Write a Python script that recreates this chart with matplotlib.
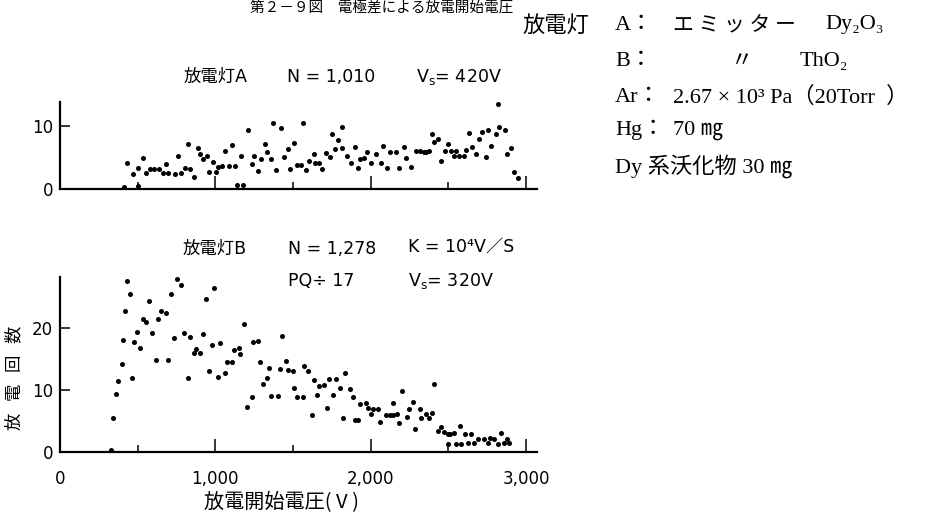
import matplotlib
matplotlib.use("Agg")
import matplotlib.pyplot as plt
from matplotlib.ticker import FixedLocator, NullFormatter

W, H = 931, 519

# 放電灯A : start voltage (V) and discharge count
volt_a = [412, 434, 472, 500, 505, 532, 554, 580, 607, 635, 665, 683, 698, 741, 762, 779,
          803, 822, 837, 865, 886, 903, 919, 944, 961, 985, 1005, 1019, 1041, 1062, 1090,
          1105, 1127, 1142, 1176, 1167, 1208, 1234, 1251, 1277, 1296, 1320, 1335, 1357,
          1369, 1389, 1421, 1442, 1466, 1483, 1507, 1528, 1550, 1563, 1584, 1605, 1636,
          1642, 1670, 1689, 1713, 1739, 1749, 1771, 1788, 1814, 1818, 1850, 1876, 1900,
          1917, 1928, 1958, 1979, 2001, 2035, 2065, 2080, 2104, 2121, 2164, 2179, 2217,
          2224, 2260, 2292, 2318, 2340, 2354, 2374, 2393, 2408, 2436, 2451, 2479, 2496,
          2516, 2533, 2550, 2565, 2597, 2612, 2634, 2651, 2677, 2694, 2713, 2741, 2752,
          2777, 2806, 2818, 2827, 2861, 2878, 2904, 2919, 2947]
count_a = [0.3, 4.1, 2.4, 3.3, 0.5, 4.9, 2.5, 3.2, 3.2, 3.2, 2.6, 4.0, 2.6, 2.4, 5.2, 2.6,
           3.4, 7.1, 3.1, 1.9, 6.5, 5.6, 4.7, 5.3, 2.7, 4.3, 2.7, 3.5, 3.7, 6.1, 3.7,
           7.0, 3.7, 0.6, 0.6, 5.2, 9.3, 3.9, 5.3, 2.9, 4.7, 7.2, 5.8, 4.8,
           10.4, 3.0, 9.6, 5.0, 6.3, 3.1, 7.3, 3.8, 3.8, 10.5, 3.0, 4.5, 5.5,
           4.1, 4.1, 3.2, 5.7, 5.1, 8.7, 6.3, 7.8, 6.5, 9.8, 5.2, 4.2, 6.6,
           3.4, 4.7, 4.9, 5.8, 4.1, 5.6, 4.2, 6.8, 3.4, 5.8, 5.8, 3.4, 6.7,
           4.9, 3.5, 6.0, 6.0, 5.8, 5.8, 6.1, 8.8, 7.4, 8.0, 4.5, 6.1, 7.1,
           6.1, 5.3, 6.1, 5.3, 5.3, 6.2, 8.9, 6.7, 5.5, 8.0, 9.1, 5.0, 9.3,
           6.8, 8.7, 13.5, 9.8, 9.4, 5.5, 6.5, 2.7, 1.8]

# 放電灯B
volt_b = [326, 343, 361, 373, 399, 408, 421, 429, 449, 466, 474, 494, 515, 534, 554, 575,
          594, 618, 633, 652, 683, 697, 715, 736, 755, 781, 797, 822, 835, 861, 878, 901,
          921, 938, 961, 981, 994, 1015, 1028, 1065, 1073, 1108, 1117, 1150, 1161, 1183,
          1204, 1234, 1241, 1275, 1288, 1305, 1335, 1344, 1361, 1404, 1417, 1427, 1455,
          1466, 1502, 1509, 1528, 1567, 1571, 1593, 1621, 1636, 1657, 1670, 1702, 1717,
          1730, 1760, 1777, 1803, 1822, 1837, 1867, 1885, 1900, 1921, 1934, 1968, 1983,
          2003, 2017, 2046, 2061, 2099, 2125, 2142, 2146, 2168, 2183, 2200, 2232, 2249,
          2271, 2288, 2314, 2325, 2355, 2372, 2391, 2408, 2432, 2451, 2473, 2494, 2511,
          2537, 2494, 2550, 2576, 2580, 2608, 2623, 2647, 2666, 2690, 2726, 2752, 2765,
          2795, 2816, 2838, 2855, 2876, 2893]
count_b = [0.4, 5.5, 9.3, 11.4, 14.2, 18.0, 22.8, 27.6, 25.4, 12.0, 17.8, 19.4, 16.8, 21.5, 21.0, 24.4,
           19.1, 14.9, 21.5, 22.7, 22.4, 14.9, 25.4, 18.3, 27.8, 26.9, 19.2, 11.9, 18.5, 15.9, 16.6, 15.9,
           19.0, 24.7, 13.0, 17.3, 26.5, 12.1, 17.5, 12.7, 14.5, 14.5, 16.4, 16.7, 15.8, 20.7,
           7.2, 8.9, 17.8, 17.9, 14.5, 11.0, 12.0, 13.6, 9.0, 9.1, 13.3, 18.7, 14.6,
           13.2, 13.0, 10.3, 8.9, 8.9, 13.9, 13.0, 6.0, 11.6, 9.2, 10.7, 10.8, 7.1,
           11.7, 9.2, 11.8, 10.3, 5.5, 12.7, 10.2, 8.9, 5.2, 5.2, 7.8, 7.9, 7.1,
           6.1, 6.9, 6.9, 4.9, 5.9, 6.0, 6.0, 7.9, 6.1, 4.6, 9.9, 5.7, 7.0,
           8.0, 3.7, 7.0, 5.5, 6.2, 5.4, 6.3, 11.0, 3.4, 4.1, 3.2, 2.9, 2.9,
           3.0, 1.3, 1.3, 4.2, 1.3, 2.9, 1.4, 2.9, 1.4, 2.1, 2.1, 1.5, 2.2,
           2.1, 1.3, 3.1, 1.4, 2.1, 1.4]

x_ticks = [0, 1000, 2000, 3000]
x_labels = ['0', '1,000', '2,000', '3,000']
x_minor = [500, 1500, 2500]

SANS = ['DejaVu Sans', 'Noto Sans CJK JP']
SERIF = ['Liberation Serif', 'DejaVu Serif', 'Noto Sans CJK JP']
CJK = ['Noto Sans CJK JP', 'DejaVu Sans']

fig = plt.figure(figsize=(W / 100, H / 100), dpi=100)


def put(x, y, s, **kw):
    # x, y in pixels from the top-left corner
    fig.text(x / W, 1 - y / H, s, **kw)


def make_axes(top, bottom, ymax):
    ax = fig.add_axes([60 / W, 1 - bottom / H, 477 / W, (bottom - top) / H])
    ax.set_xlim(0, 3070)
    ax.set_ylim(0, ymax)
    for side in ['top', 'right']:
        ax.spines[side].set_visible(False)
    for side in ['left', 'bottom']:
        ax.spines[side].set_linewidth(1.6)
    ax.xaxis.set_major_locator(FixedLocator(x_ticks))
    ax.xaxis.set_minor_locator(FixedLocator(x_minor))
    ax.xaxis.set_minor_formatter(NullFormatter())
    ax.tick_params(axis='x', which='major', direction='in', length=9.5, width=1.1,
                   pad=13, labelsize=12)
    ax.tick_params(axis='x', which='minor', direction='in', length=5, width=1.1)
    ax.tick_params(axis='y', direction='in', length=7, width=1.1, pad=5, labelsize=12)
    ax.patch.set_visible(False)
    return ax


ax1 = make_axes(102, 189, 13.8)
ax1.set_yticks([0, 10])
ax1.set_xticklabels([])
ax1.scatter(volt_a, count_a, s=13, color='black', linewidths=0, clip_on=False, zorder=3)

ax2 = make_axes(277, 452, 28.2)
ax2.set_yticks([0, 10, 20])
ax2.set_xticklabels(x_labels)
ax2.scatter(volt_b, count_b, s=13, color='black', linewidths=0, clip_on=False, zorder=3)

for lab in ax1.get_yticklabels() + ax2.get_yticklabels() + ax2.get_xticklabels():
    lab.set_family(SANS)

# axis titles
put(14, 378, '放   電   回   数', rotation=90, ha='center', va='center', fontsize=12.5, family=CJK)
put(282, 503, '放電開始電圧( V )', ha='center', va='center', fontsize=14.5, family=CJK)

# panel annotations
put(184, 77, '放電灯A', va='center', fontsize=12.5, family=SANS)
put(287, 77, 'N = 1,010', va='center', fontsize=12.5, family=SANS)
put(416, 77, r'V$_\mathregular{s}$= 420V', va='center', fontsize=12.5, family=SANS)

put(183, 249, '放電灯B', va='center', fontsize=12.5, family=SANS)
put(288, 249, 'N = 1,278', va='center', fontsize=12.5, family=SANS)
put(408, 247, 'K = 10⁴V／S', va='center', fontsize=12.5, family=SANS)
put(288, 281, 'PQ÷ 17', va='center', fontsize=12.5, family=SANS)
put(408, 281, r'V$_\mathregular{s}$= 320V', va='center', fontsize=12.5, family=SANS)

# figure caption (cut off by the scan in the source; kept fully inside here)
put(250, 1, '第２－９図　電極差による放電開始電圧', va='top', fontsize=10.5, family=CJK)

# lamp conditions
put(522, 25, '放電灯', va='center', fontsize=16, family=CJK)
put(615, 25, 'A：', va='center', fontsize=16, family=SERIF)
put(673, 25, 'エ ミ ッ タ ー', va='center', fontsize=15, family=CJK)
put(825, 25, 'Dy₂O₃', va='center', fontsize=16, family=SERIF)
put(615, 62, 'B：', va='center', fontsize=16, family=SERIF)
put(731, 62, '〃', va='center', fontsize=16, family=SERIF)
put(800, 62, 'ThO₂', va='center', fontsize=16, family=SERIF)
put(615, 97, 'Ar：', va='center', fontsize=16, family=SERIF)
put(673, 97, '2.67 × 10³ Pa（20Torr  ）', va='center', fontsize=16, family=SERIF)
put(615, 130, 'Hg：', va='center', fontsize=16, family=SERIF)
put(673, 130, '70 ㎎', va='center', fontsize=16, family=SERIF)
put(615, 166, 'Dy 系沃化物 30 ㎎', va='center', fontsize=16, family=SERIF)

fig.savefig('out.png', dpi=100)
